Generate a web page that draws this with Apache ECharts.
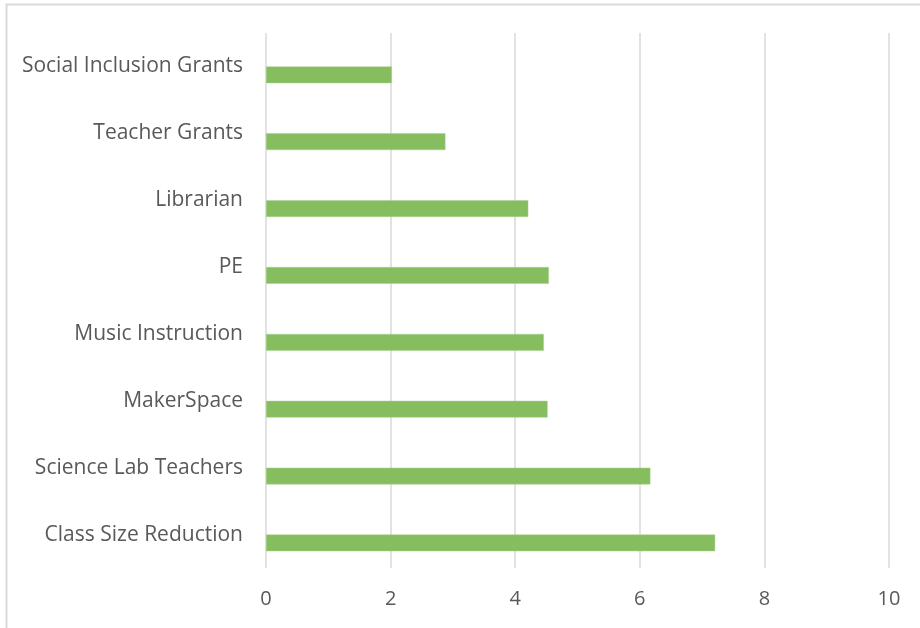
<!DOCTYPE html>
<html>
<head>
<meta charset="utf-8">
<script src="https://cdn.jsdelivr.net/npm/echarts@6/dist/echarts.min.js"></script>
<style>
  html, body { margin: 0; padding: 0; background: #fff; }
  #container { width: 920px; height: 628px; }
</style>
</head>
<body>
<div id="container"></div>
<script>
var dom = document.getElementById("container");
var myChart = echarts.init(dom);

// bottom to top, as the category axis runs
var categories = [
    'Class Size Reduction',
    'Science Lab Teachers',
    'MakerSpace',
    'Music Instruction',
    'PE',
    'Librarian',
    'Teacher Grants',
    'Social Inclusion Grants'
];
var values = [7.21, 6.17, 4.52, 4.46, 4.54, 4.21, 2.88, 2.02];
var blank = [null, null, null, null, null, null, null, null];   // empty series, sits above each bar
var xTicks = [0, 2, 4, 6, 8, 10];

var textColor = '#595959';
var fontFamily = '"Open Sans", "Noto Sans", sans-serif';

myChart.setOption({
    animation: false,
    graphic: [{
        type: 'rect',
        shape: { x: 6.5, y: 4.5, width: 1000, height: 1000 },
        style: { fill: 'none', stroke: '#d9d9d9', lineWidth: 2 },
        silent: true
    }],
    grid: {
        left: 266,
        right: 31,
        top: 33,
        bottom: 60
    },
    xAxis: {
        type: 'value',
        min: xTicks[0],
        max: xTicks[xTicks.length - 1],
        interval: xTicks[1] - xTicks[0],
        axisLine: { show: false },
        axisTick: { show: false },
        axisLabel: {
            color: textColor,
            fontFamily: fontFamily,
            fontSize: 20,
            margin: 21
        },
        splitLine: {
            show: true,
            lineStyle: { color: '#d9d9d9', width: 1.5 }
        }
    },
    yAxis: {
        type: 'category',
        data: categories,
        axisLine: { show: false },
        axisTick: { show: false },
        splitLine: { show: false },
        axisLabel: {
            color: textColor,
            fontFamily: fontFamily,
            fontSize: 21,
            margin: 23,
            padding: [4, 0, 0, 0]
        }
    },
    series: [
        {
            type: 'bar',
            data: blank,
            barGap: 0,
            barCategoryGap: '50%',
            silent: true
        },
        {
            type: 'bar',
            data: values,
            barGap: 0,
            barCategoryGap: '50%',
            itemStyle: {
                color: '#86bd5f',
                borderColor: '#a9d18e',
                borderWidth: 0.5
            }
        }
    ]
});
</script>
</body>
</html>
